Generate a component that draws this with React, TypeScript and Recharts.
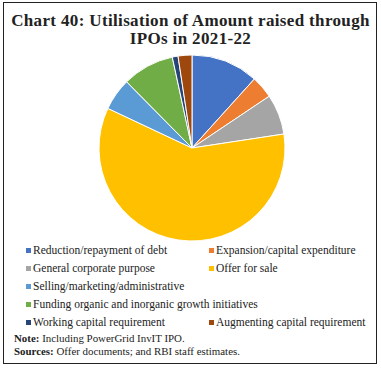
import { PieChart, Pie, Cell } from 'recharts';

// Utilisation of amount raised through IPOs, 2021-22 (per cent share)
const purposes = [
    'Reduction/repayment of debt',
    'Expansion/capital expenditure',
    'General corporate purpose',
    'Offer for sale',
    'Selling/marketing/administrative',
    'Funding organic and inorganic growth initiatives',
    'Working capital requirement',
    'Augmenting capital requirement',
];
const shares = [11.7, 3.9, 7.0, 59.4, 5.6, 9.0, 1.0, 2.4];
const colors = ['#4472C4', '#ED7D31', '#A5A5A5', '#FFC000', '#5B9BD5', '#70AD47', '#264478', '#9E480E'];

const data = purposes.map((name, i) => ({ name, value: shares[i] }));

// legend rows as laid out in the original (index into purposes, or -1 for blank)
const legendRows = [
    [0, 1],
    [2, 3],
    [4, -1],
    [5, -1],
    [6, 7],
];

const serif = '"Liberation Serif", "DejaVu Serif", serif';

function LegendItem({ idx }: { idx: number }) {
    if (idx < 0) return <div style={{ width: 183, flexShrink: 0 }} />;
    return (
        <div style={{ width: 183, flexShrink: 0, display: 'flex', alignItems: 'center', whiteSpace: 'nowrap', overflow: 'visible' }}>
            <span style={{ width: 5, height: 5, flexShrink: 0, background: colors[idx], marginRight: 2, display: 'inline-block' }} />
            <span>{purposes[idx]}</span>
        </div>
    );
}

export default function App() {
    return (
        <div style={{ position: 'absolute', left: 0, top: 0, width: 381, height: 368, background: '#fff', fontFamily: serif }}>
            <div style={{ position: 'absolute', left: 3, top: 2, width: 372, height: 360, border: '1.5px solid #222' }} />
            <div style={{ position: 'absolute', left: 0, top: 12, width: 381, textAlign: 'center', fontWeight: 'bold', fontSize: 17, letterSpacing: 0.35, lineHeight: '18px', color: '#222' }}>
                Chart 40: Utilisation of Amount raised through<br />IPOs in 2021-22
            </div>
            <div style={{ position: 'absolute', left: 0, top: 0 }}>
                <PieChart width={381} height={250} margin={{ top: 0, right: 0, bottom: 0, left: 0 }}>
                    <Pie
                        data={data}
                        dataKey="value"
                        nameKey="name"
                        cx={192}
                        cy={148}
                        outerRadius={93}
                        startAngle={90}
                        endAngle={-270}
                        stroke="#fff"
                        strokeWidth={1}
                        isAnimationActive={false}
                    >
                        {data.map((d, i) => (
                            <Cell key={d.name} fill={colors[i]} />
                        ))}
                    </Pie>
                </PieChart>
            </div>
            <div style={{ position: 'absolute', left: 26, top: 241, width: 366, fontSize: 11.5, color: '#222' }}>
                {legendRows.map((row, r) => (
                    <div key={r} style={{ display: 'flex', height: 18 }}>
                        <LegendItem idx={row[0]} />
                        <LegendItem idx={row[1]} />
                    </div>
                ))}
            </div>
            <div style={{ position: 'absolute', left: 14, top: 332, fontSize: 10.9, lineHeight: '12.5px', color: '#222' }}>
                <div><b>Note:</b> Including PowerGrid InvIT IPO.</div>
                <div><b>Sources:</b> Offer documents; and RBI staff estimates.</div>
            </div>
        </div>
    );
}
